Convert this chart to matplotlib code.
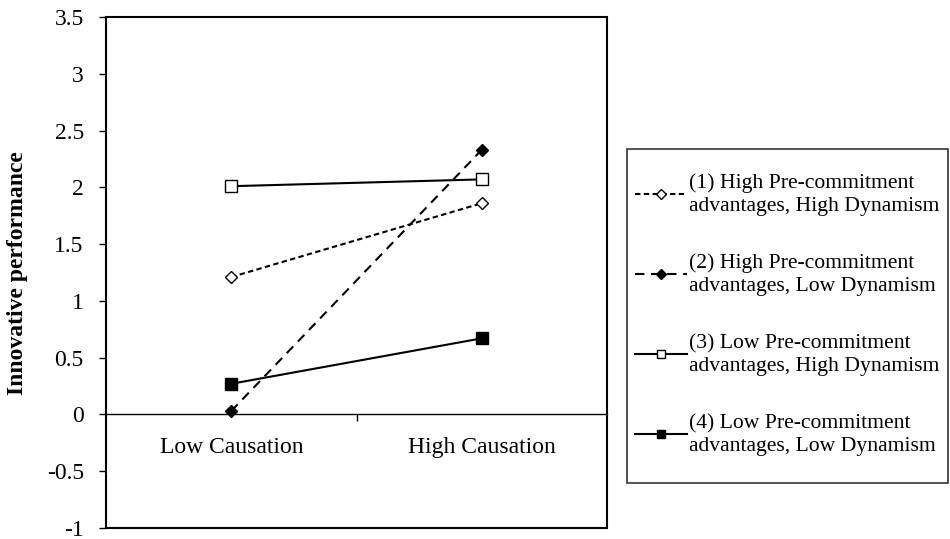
import numpy as np
import matplotlib
matplotlib.use("Agg")
from matplotlib import pyplot as plt
from matplotlib.patches import Rectangle

plt.rcParams['font.family'] = ['Liberation Serif', 'DejaVu Serif']

categories = ['Low Causation', 'High Causation']
series_labels = [
	'(1) High Pre-commitment\nadvantages, High Dynamism',
	'(2) High Pre-commitment\nadvantages, Low Dynamism',
	'(3) Low Pre-commitment\nadvantages, High Dynamism',
	'(4) Low Pre-commitment\nadvantages, Low Dynamism',
]
s1 = [1.21, 1.86]
s2 = [0.03, 2.33]
s3 = [2.01, 2.07]
s4 = [0.27, 0.67]
yticks = [-1, -0.5, 0, 0.5, 1, 1.5, 2, 2.5, 3, 3.5]

fig = plt.figure(figsize=(9.5, 5.39), dpi=100)
ax = fig.add_axes([106/950, 1-528/539, (607-106)/950, (528-17)/539])

x = np.arange(len(categories))
styles = [
	dict(ls=(0, (2.6, 1.6)), marker='D', mfc='white', ms=6),
	dict(ls=(0, (4.5, 3.2)), marker='D', mfc='black', ms=6),
	dict(ls='-', marker='s', mfc='white', ms=8),
	dict(ls='-', marker='s', mfc='black', ms=8),
]
for vals, st, lab in zip([s1, s2, s3, s4], styles, series_labels):
	ax.plot(x, vals, color='black', lw=1.5, mec='black', mew=1.0,
		label=lab, clip_on=False, zorder=3, **st)

ax.set_xlim(-0.5, 1.5)
ax.set_ylim(-1, 3.5)
ax.set_yticks(yticks)
ax.set_yticklabels(['%g' % v for v in yticks])
ax.tick_params(axis='y', direction='out', length=5, width=1, labelsize=17, pad=11)

# category axis sits on y = 0
ax.spines['bottom'].set_position(('data', 0))
ax.spines['bottom'].set_linewidth(1)
ax.set_xticks(x)
ax.set_xticklabels(categories)
ax.set_xticks([0.5], minor=True)
ax.tick_params(axis='x', which='major', length=0, labelsize=17, pad=16)
ax.tick_params(axis='x', which='minor', direction='out', length=5, width=1)
for sp in ['top', 'right', 'left']:
	ax.spines[sp].set_visible(False)
ax.add_patch(Rectangle((0, 0), 1, 1, transform=ax.transAxes, fill=False,
	ec='black', lw=1.5, clip_on=False, zorder=4))

fig.text(18/950, 1-273/539, 'Innovative performance', rotation=90,
	ha='center', va='center', fontsize=17, fontweight='bold')

leg = fig.legend(loc='upper left', bbox_to_anchor=(635/950, 1-173/539),
	fontsize=15.6, frameon=False, handlelength=2.4, markerscale=0.8,
	handletextpad=0.1, labelspacing=1.75, borderpad=0, borderaxespad=0)
for t in leg.get_texts():
	t.set_linespacing(1.27)
fig.patches.append(Rectangle((627/950, 1-483/539), (948-627)/950, (483-149)/539,
	transform=fig.transFigure, fill=False, ec='#333333', lw=1.2))

fig.savefig('out.png', dpi=100)
